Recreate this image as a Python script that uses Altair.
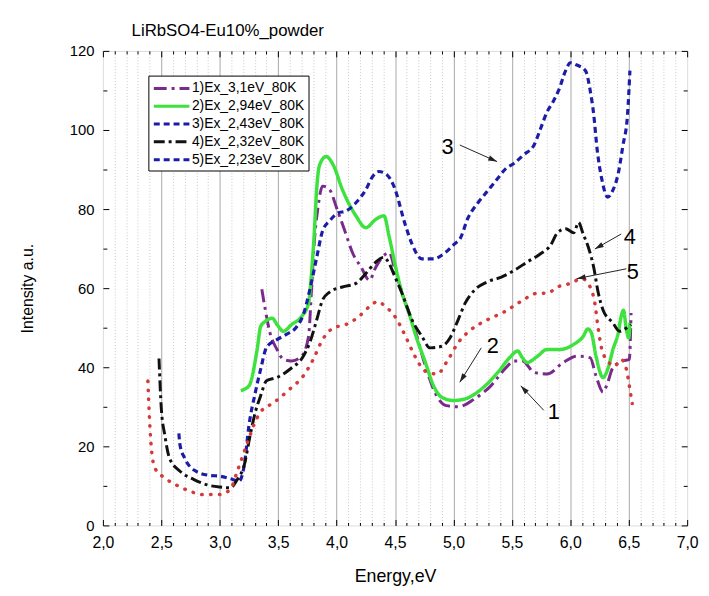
import math
import altair as alt
import pandas as pd

TITLE = "LiRbSO4-Eu10%_powder"
X_TITLE = "Energy,eV"
Y_TITLE = "Intensity a.u."
LABELS = ["1)Ex_3,1eV_80K", "2)Ex_2,94eV_80K", "3)Ex_2,43eV_80K",
          "4)Ex_2,32eV_80K", "5)Ex_2,23eV_80K"]

# series 1 (purple dash-dot)
E1 = [3.36, 3.39, 3.43, 3.49, 3.545, 3.615, 3.70, 3.76, 3.785, 3.81, 3.84, 3.88, 3.94, 4.00,
      4.07, 4.14, 4.21, 4.28, 4.335, 4.39, 4.45, 4.50, 4.59, 4.67, 4.76, 4.84, 4.94, 5.04,
      5.18, 5.32, 5.45, 5.52, 5.59, 5.69, 5.80, 5.94, 6.055, 6.17, 6.22, 6.28, 6.31, 6.365,
      6.45, 6.505, 6.52]
I1 = [59.7, 54.5, 48.7, 44.5, 42.0, 41.6, 42.8, 47.8, 59.5, 72.0, 80.3, 85.8, 84.9, 80.3,
      74.5, 68.7, 65.3, 62.0, 65.3, 67.8, 69.0, 64.5, 56.2, 49.5, 40.3, 33.7, 30.3, 30.0,
      32.0, 35.3, 39.9, 41.6, 41.6, 38.7, 38.3, 41.2, 42.8, 42.4, 37.8, 33.7, 35.3, 39.9,
      41.6, 42.0, 53.7]

# series 2 (green solid)
E2 = [3.18, 3.25, 3.32, 3.35, 3.39, 3.45, 3.49, 3.545, 3.615, 3.70, 3.76, 3.785, 3.81, 3.83,
      3.855, 3.91, 3.97, 4.05, 4.165, 4.25, 4.335, 4.405, 4.45, 4.50, 4.56, 4.62, 4.67, 4.76,
      4.83, 4.90, 5.00, 5.10, 5.24, 5.38, 5.48, 5.55, 5.59, 5.63, 5.72, 5.80, 5.91, 6.03,
      6.11, 6.15, 6.18, 6.22, 6.28, 6.32, 6.365, 6.41, 6.435, 6.455, 6.48, 6.50, 6.51]
I2 = [34.1, 35.3, 44.5, 50.3, 51.6, 52.4, 50.8, 49.1, 50.8, 52.8, 56.2, 63.7, 74.5, 85.3,
      91.2, 93.3, 91.2, 84.9, 78.3, 75.3, 77.4, 78.3, 73.0, 66.0, 58.7, 53.7, 48.7, 41.2,
      35.3, 32.4, 31.6, 32.0, 34.5, 38.7, 42.4, 44.1, 42.4, 41.2, 42.8, 44.5, 44.5, 45.8,
      47.8, 49.7, 48.7, 42.8, 37.4, 39.5, 44.5, 48.7, 52.8, 54.4, 49.5, 47.4, 51.2]

# series 3 (blue dashed)
E3 = [2.65, 2.66, 2.70, 2.78, 2.90, 3.01, 3.09, 3.165, 3.21, 3.25, 3.305, 3.35, 3.40, 3.49,
      3.57, 3.66, 3.715, 3.77, 3.83, 3.88, 3.94, 4.01, 4.08, 4.165, 4.25, 4.31, 4.36, 4.43,
      4.49, 4.59, 4.645, 4.73, 4.83, 4.93, 5.01, 5.055, 5.125, 5.21, 5.29, 5.38, 5.45, 5.52,
      5.60, 5.69, 5.745, 5.80, 5.85, 5.90, 5.96, 6.00, 6.05, 6.13, 6.17, 6.20, 6.23, 6.27,
      6.32, 6.36, 6.41, 6.45, 6.49, 6.51]
I3 = [23.3, 20.3, 17.0, 14.0, 12.7, 12.4, 11.8, 11.2, 15.3, 25.3, 33.7, 39.5, 45.0, 47.0,
      48.3, 50.3, 53.3, 59.5, 67.8, 74.5, 77.0, 79.0, 79.5, 81.6, 84.9, 88.3, 89.5, 88.7,
      85.8, 75.8, 71.2, 67.4, 67.4, 69.0, 71.2, 72.4, 77.8, 81.6, 84.5, 87.8, 90.3, 91.6,
      93.7, 96.2, 100.3, 104.5, 107.0, 110.0, 115.0, 117.0, 116.5, 115.0, 110.0, 104.0, 95.0,
      87.5, 83.0, 84.5, 89.0, 96.0, 104.0, 115.0]

# series 4 (black dash-dot)
E4 = [2.48, 2.50, 2.53, 2.57, 2.66, 2.78, 2.90, 3.00, 3.09, 3.15, 3.21, 3.26, 3.305, 3.35,
      3.40, 3.49, 3.60, 3.715, 3.77, 3.83, 3.88, 3.94, 4.05, 4.165, 4.25, 4.335, 4.405, 4.45,
      4.50, 4.56, 4.645, 4.73, 4.80, 4.90, 4.97, 5.04, 5.10, 5.18, 5.29, 5.41, 5.52, 5.63,
      5.745, 5.83, 5.89, 5.96, 6.03, 6.07, 6.11, 6.155, 6.20, 6.24, 6.28, 6.365, 6.42, 6.48,
      6.52]
I4 = [42.2, 29.5, 22.8, 17.0, 13.7, 11.6, 10.2, 9.7, 9.5, 11.6, 15.3, 22.8, 28.7, 32.8,
      36.6, 37.4, 39.5, 42.8, 46.2, 52.0, 57.0, 59.0, 60.3, 61.2, 63.7, 66.6, 67.8, 66.2,
      62.8, 58.7, 52.0, 47.8, 44.9, 45.3, 47.4, 52.0, 56.2, 59.5, 61.6, 62.8, 64.5, 66.6,
      68.7, 70.8, 74.0, 75.0, 74.0, 76.6, 73.7, 70.3, 65.3, 58.7, 54.5, 51.2, 49.1, 49.9,
      50.8]

# series 5 (red dotted)
E5 = [2.385, 2.40, 2.415, 2.445, 2.53, 2.63, 2.74, 2.855, 2.995, 3.09, 3.15, 3.21, 3.26,
      3.29, 3.35, 3.46, 3.60, 3.715, 3.80, 3.88, 3.97, 4.08, 4.19, 4.28, 4.35, 4.42, 4.50,
      4.59, 4.67, 4.76, 4.86, 4.955, 5.04, 5.15, 5.29, 5.435, 5.575, 5.72, 5.80, 5.89, 6.00,
      6.10, 6.17, 6.21, 6.24, 6.27, 6.32, 6.38, 6.435, 6.48, 6.505, 6.53]
I5 = [36.5, 26.2, 19.5, 14.5, 12.0, 10.2, 8.7, 7.8, 7.8, 9.1, 13.7, 18.7, 22.8, 25.3, 28.7,
      31.0, 34.5, 37.8, 42.0, 47.0, 49.9, 50.8, 52.8, 55.3, 56.6, 55.3, 52.8, 47.8, 42.8,
      39.0, 38.3, 42.0, 46.2, 49.5, 52.0, 54.0, 56.6, 58.7, 58.7, 60.3, 61.2, 62.4, 60.3,
      56.2, 49.5, 44.5, 41.6, 40.3, 42.0, 39.5, 35.3, 30.8]

# annotations
NOTE_TEXT = ["3", "4", "5", "2", "1"]
NOTE_E = [4.95, 6.51, 6.535, 5.336, 5.858]
NOTE_I = [95.8, 72.8, 64.1, 45.3, 28.7]
ARROW_E0 = [5.054, 6.436, 6.48, 5.238, 5.773]
ARROW_I0 = [96.2, 73.7, 64.9, 44.9, 29.1]
ARROW_E1 = [5.373, 6.21, 6.055, 5.054, 5.576]
ARROW_I1 = [92.0, 69.9, 62.4, 36.2, 35.3]

# ticks
X_MAJOR = [2.0, 2.5, 3.0, 3.5, 4.0, 4.5, 5.0, 5.5, 6.0, 6.5, 7.0]
X_GRID = [2.5, 3.0, 3.5, 4.0, 4.5, 5.0, 5.5, 6.0, 6.5]
X_MINOR = [round(2 + 0.1 * k, 1) for k in range(1, 50) if k % 5]
Y_MAJOR = [0, 20, 40, 60, 80, 100, 120]
Y_MINOR = [10, 30, 50, 70, 90, 110]

# styles
SERIES_COLORS = ["#7a2a8a", "#3ee23e", "#1c1ca8", "#111111", "#d43a3a"]
SERIES_DASH = [[13, 5, 3, 5], [1, 0], [6, 4], [11, 4, 3, 4], [0.5, 8.5]]
SERIES_WIDTH = [3, 3.5, 3.2, 3, 3.5]
SERIES_CAP = ["butt", "butt", "butt", "butt", "round"]
LEGEND_COLORS = ["#7a2a8a", "#3ee23e", "#1c1ca8", "#111111", "#1c1ca8"]
LEGEND_DASH = [[13, 5, 3, 5], [1, 0], [6, 4], [11, 4, 3, 4], [6, 4]]

W, H = 591, 480
FONT = "Liberation Sans"

xs = alt.Scale(domain=[2, 7], nice=False, zero=False)
ys = alt.Scale(domain=[0, 120], nice=False, zero=False)


def tick_axis(orient, values, size):
    return alt.Axis(orient=orient, values=values, labels=False, domain=False, grid=False,
                    ticks=True, tickSize=size, tickColor="black", tickWidth=1,
                    offset=-size, title="")


x_lab = alt.Axis(orient="bottom", values=X_MAJOR, format=".1f",
                 labelExpr="replace(datum.label, '.', ',')", ticks=False, tickSize=0,
                 domain=False, grid=False, labelFontSize=16, labelPadding=9,
                 labelColor="black", labelFont=FONT, labelFlush=False, labelOverlap=False,
                 title=X_TITLE, titleFontSize=18, titleFontWeight="normal", titleColor="black",
                 titleFont=FONT, titleX=W / 2, titleY=52, titleBaseline="middle",
                 titleAlign="center")
x_grid_major = alt.Axis(orient="bottom", values=X_GRID, grid=True, gridColor="#a8a8a8",
                        gridWidth=1, labels=False, ticks=False, domain=False, title="")
x_grid_minor = alt.Axis(orient="bottom", values=X_MINOR, grid=True, gridColor="#c8c8c8",
                        gridDash=[1, 2], gridWidth=1, labels=False, ticks=False,
                        domain=False, title="")
X_AXES = [x_lab, x_grid_major, x_grid_minor,
          tick_axis("bottom", X_MAJOR, 6), tick_axis("bottom", X_MINOR, 3),
          tick_axis("top", X_MAJOR, 6), tick_axis("top", X_MINOR, 3)]

y_lab = alt.Axis(orient="left", values=Y_MAJOR, ticks=False, tickSize=0, domain=False,
                 grid=False, labelFontSize=15, labelPadding=9, labelColor="black",
                 labelFont=FONT, labelFlush=False, labelOverlap=False, title=Y_TITLE,
                 titleFontSize=16, titleFontWeight="normal", titleColor="black",
                 titleFont=FONT, titleX=-76, titleY=H / 2, titleAngle=270,
                 titleBaseline="middle", titleAlign="center")
Y_AXES = [y_lab, tick_axis("left", Y_MAJOR, 6), tick_axis("left", Y_MINOR, 4),
          tick_axis("right", Y_MAJOR, 6), tick_axis("right", Y_MINOR, 4)]

series = [(E1, I1), (E2, I2), (E3, I3), (E4, I4), (E5, I5)]
layers = []
for k, (E, I) in enumerate(series):
    df = pd.DataFrame({"E": E, "I": I})
    layers.append(
        alt.Chart(df).mark_line(color=SERIES_COLORS[k], strokeDash=SERIES_DASH[k],
                                strokeWidth=SERIES_WIDTH[k], strokeCap=SERIES_CAP[k],
                                interpolate="monotone")
        .encode(x=alt.X("E:Q", scale=xs, axis=X_AXES[k]),
                y=alt.Y("I:Q", scale=ys, axis=Y_AXES[k]))
    )

leg = alt.Legend(orient="none", legendX=46, legendY=25, strokeColor="black",
                 fillColor="white", padding=4, labelFontSize=14, labelFont=FONT,
                 labelColor="black", symbolType="M-1,0H3.8", symbolSize=225,
                 symbolStrokeWidth=3, labelOffset=22, rowPadding=2, cornerRadius=0)
leg_df = pd.DataFrame({"E": [2.0] * 5, "I": [0.0] * 5, "lab": LABELS})
legend_layer = (
    alt.Chart(leg_df).transform_filter("datum.I > 1000").mark_line(strokeWidth=3)
    .encode(x=alt.X("E:Q", scale=xs, axis=X_AXES[5]),
            y=alt.Y("I:Q", scale=ys, axis=None),
            color=alt.Color("lab:N", scale=alt.Scale(domain=LABELS, range=LEGEND_COLORS),
                            title=None, legend=leg),
            strokeDash=alt.StrokeDash("lab:N",
                                      scale=alt.Scale(domain=LABELS, range=LEGEND_DASH),
                                      title=None, legend=leg))
)
layers.append(legend_layer)

note_df = pd.DataFrame({"t": NOTE_TEXT, "E": NOTE_E, "I": NOTE_I})
layers.append(
    alt.Chart(note_df).mark_text(fontSize=22, font=FONT, color="black", align="center",
                                 baseline="middle")
    .encode(x=alt.X("E:Q", scale=xs, axis=X_AXES[6]),
            y=alt.Y("I:Q", scale=ys, axis=None), text="t:N")
)

px_e, px_i = W / 5.0, H / 120.0
ANG = []
for e0, i0, e1, i1 in zip(ARROW_E0, ARROW_I0, ARROW_E1, ARROW_I1):
    dx = (e1 - e0) * px_e
    dy = -(i1 - i0) * px_i
    ANG.append((math.degrees(math.atan2(dx, -dy)) + 360) % 360)

arr_df = pd.DataFrame({"E0": ARROW_E0, "I0": ARROW_I0, "E1": ARROW_E1, "I1": ARROW_I1,
                       "ang": ANG})
layers.append(
    alt.Chart(arr_df).mark_rule(color="#222222", strokeWidth=1)
    .encode(x=alt.X("E0:Q", scale=xs, axis=None), x2="E1:Q",
            y=alt.Y("I0:Q", scale=ys, axis=None), y2="I1:Q")
)
layers.append(
    alt.Chart(arr_df).mark_point(shape="M0,0L-0.6,2L0.6,2Z", filled=True, size=81,
                                 color="#222222", opacity=1)
    .encode(x=alt.X("E1:Q", scale=xs, axis=None), y=alt.Y("I1:Q", scale=ys, axis=None),
            angle=alt.Angle("ang:Q", scale=None))
)

chart = (
    alt.layer(*layers)
    .resolve_axis(x="independent", y="independent")
    .properties(width=W, height=H, autosize=alt.AutoSizeParams(type="none"),
                padding={"left": 96, "top": 40, "right": 14, "bottom": 68},
                title=alt.TitleParams(TITLE, anchor="start", dx=29, dy=23, fontSize=17,
                                      fontWeight="normal", font=FONT, color="black",
                                      offset=10, baseline="bottom", frame="group"))
    .configure_view(stroke="black", strokeWidth=1)
    .configure(background="white")
)

chart.save("out.html", embed_options={"renderer": "svg", "actions": False})
